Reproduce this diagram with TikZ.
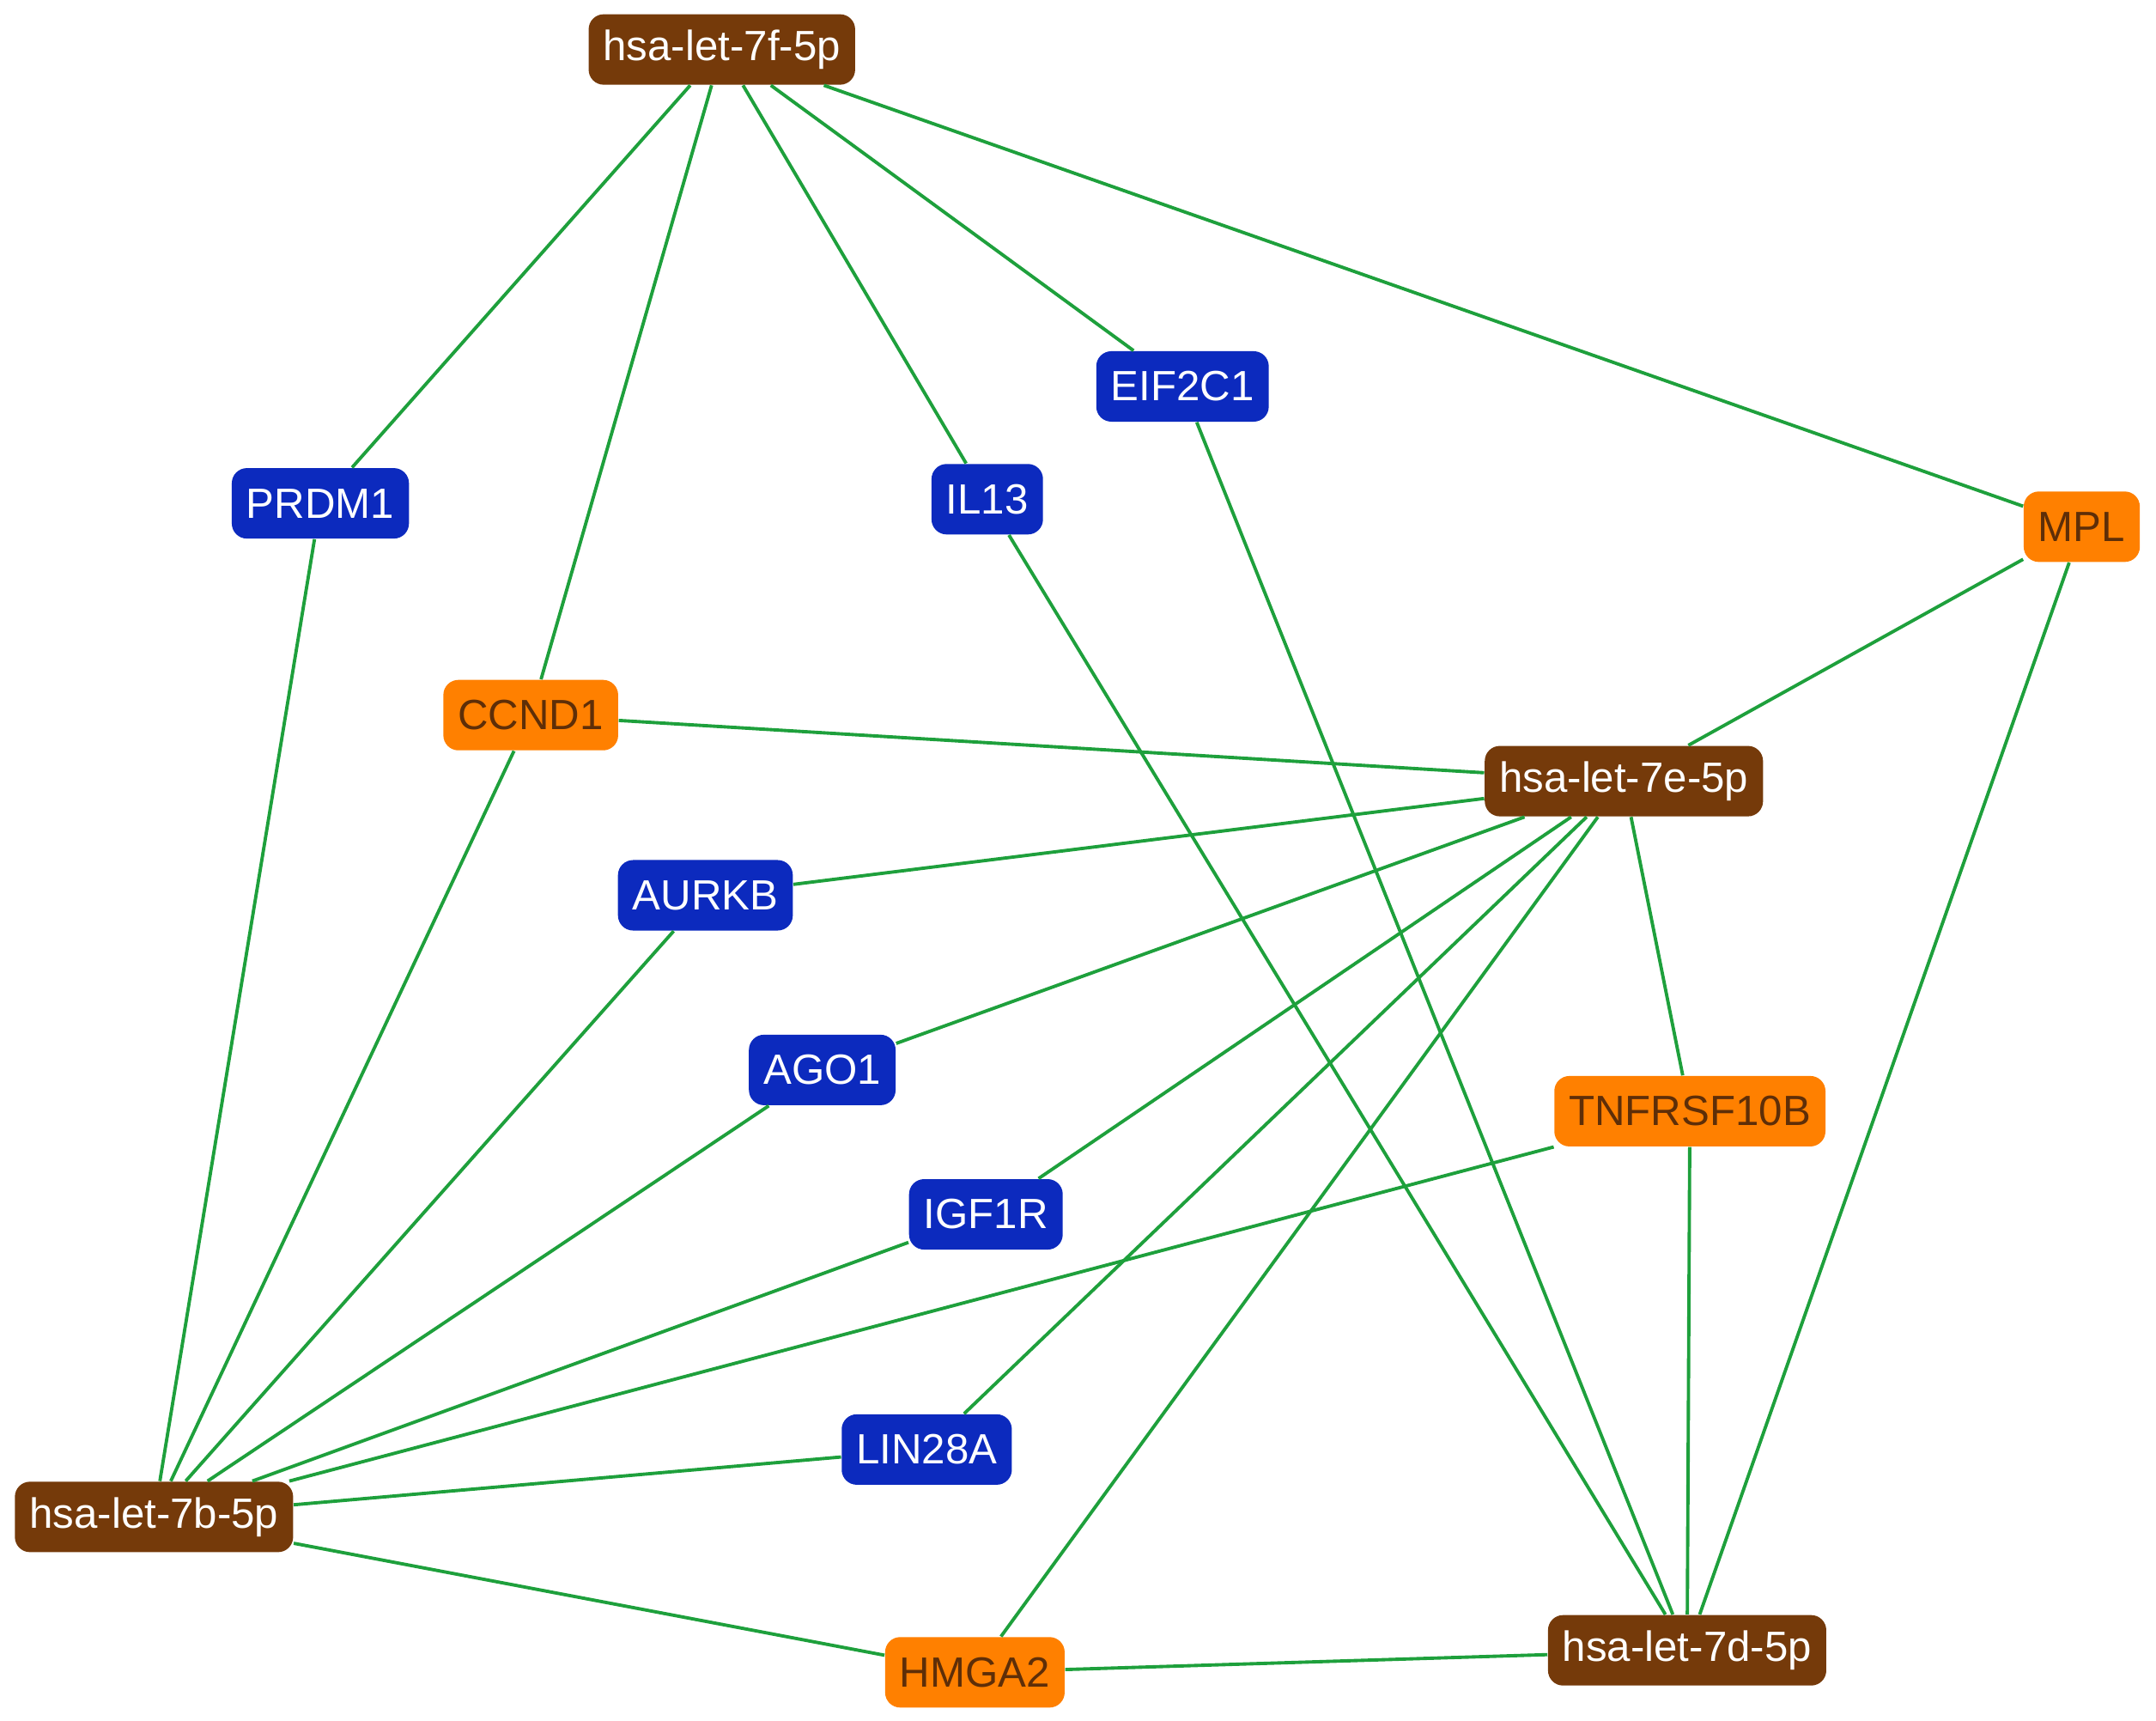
\documentclass[tikz,border=0pt]{standalone}
\usepackage{fontspec}
\setmainfont{Liberation Sans}
\usepackage{tikz}

\definecolor{mirbrown}{RGB}{117,58,10}
\definecolor{geneblue}{RGB}{12,42,190}
\definecolor{geneorange}{RGB}{255,128,0}
\definecolor{edgegreen}{RGB}{30,160,60}

\begin{document}
\begin{tikzpicture}[x=0.016cm, y=-0.016cm,
    box/.style={rounded corners=5pt, minimum height=0.82cm, inner xsep=0.17cm,
      font=\fontsize{14}{16}\selectfont},
    mir/.style={box, fill=mirbrown, text=white},
    blue/.style={box, fill=geneblue, text=white},
    orange/.style={box, fill=geneorange, text=mirbrown!80!black},
    link/.style={edgegreen, line width=1.1pt}]
    \useasboundingbox (0,0) rectangle (1568,1251);

    % microRNAs
    \node[mir] (f7) at (525,36)   {hsa-let-7f-5p};
    \node[mir] (e7) at (1181,568) {hsa-let-7e-5p};
    \node[mir] (b7) at (112,1103) {hsa-let-7b-5p};
    \node[mir] (d7) at (1227,1200) {hsa-let-7d-5p};

    % target genes
    \node[blue] (prdm1) at (233,366) {PRDM1};
    \node[blue] (il13)  at (718,363) {IL13};
    \node[blue] (eif)   at (860,281) {EIF2C1};
    \node[blue] (aurkb) at (513,651) {AURKB};
    \node[blue] (ago1)  at (598,778) {AGO1};
    \node[blue] (igf1r) at (717,883) {IGF1R};
    \node[blue] (lin)   at (674,1054) {LIN28A};
    \node[orange] (mpl)   at (1514,383) {MPL};
    \node[orange] (ccnd1) at (386,520) {CCND1};
    \node[orange] (tnf)   at (1229,808) {TNFRSF10B};
    \node[orange] (hmga2) at (709,1216) {HMGA2};

    % interactions
    \foreach \g in {prdm1, ccnd1, il13, eif, mpl}
      \draw[link] (f7) -- (\g);
    \foreach \g in {ccnd1, mpl, aurkb, ago1, igf1r, lin, hmga2, tnf}
      \draw[link] (e7) -- (\g);
    \foreach \g in {prdm1, ccnd1, aurkb, ago1, igf1r, tnf, lin, hmga2}
      \draw[link] (b7) -- (\g);
    \foreach \g in {eif, il13, mpl, tnf, hmga2}
      \draw[link] (d7) -- (\g);
\end{tikzpicture}
\end{document}
